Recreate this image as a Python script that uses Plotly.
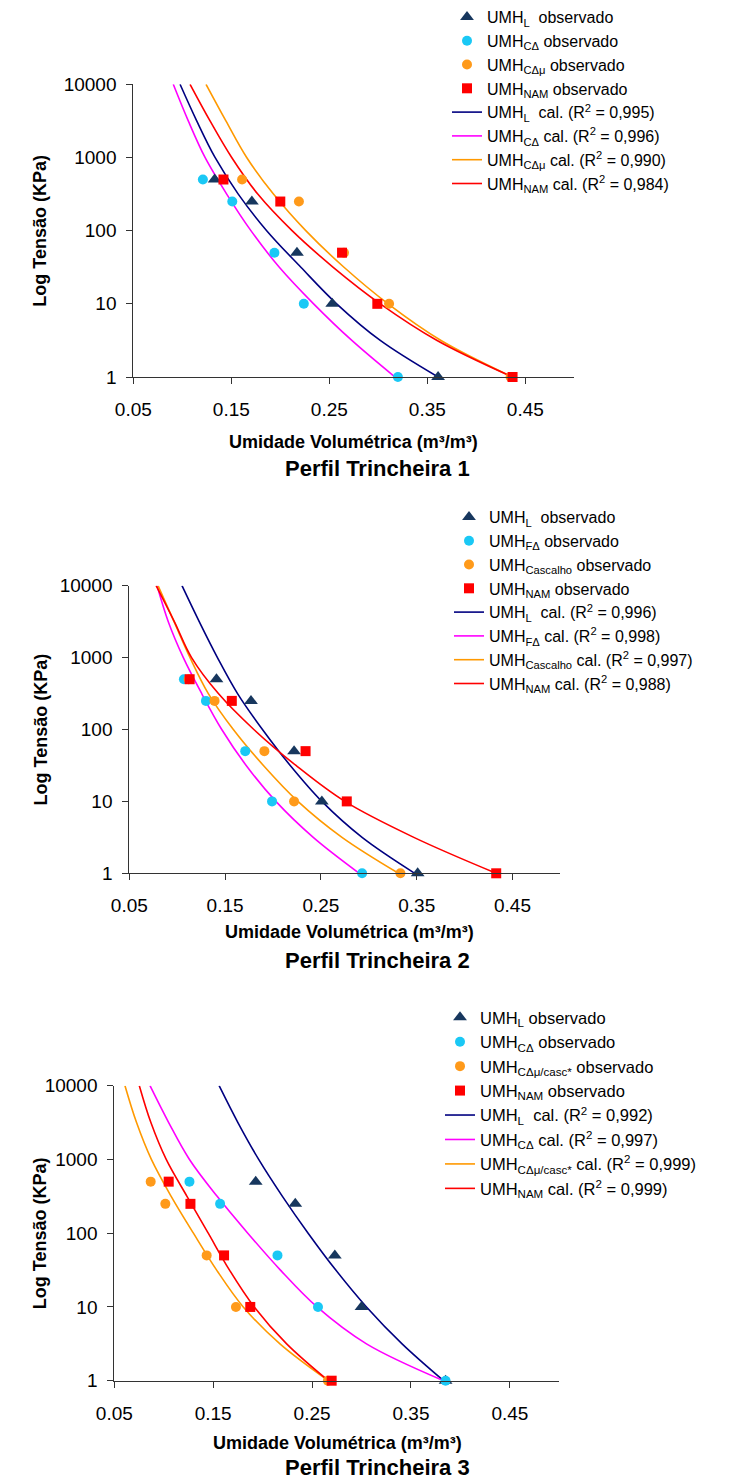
import plotly.graph_objects as go

W, H = 745, 1480

# ---------------- data ----------------
tension_obs = [500, 250, 50, 10, 1]
tension_cal = [1, 3.16, 10, 31.6, 100, 316, 1000, 3162, 10000]
x_ticks = [0.05, 0.15, 0.25, 0.35, 0.45]
x_ticktext = ["0.05", "0.15", "0.25", "0.35", "0.45"]
y_ticks = [1, 10, 100, 1000, 10000]
y_ticktext = ["1", "10", "100", "1000", "10000"]

# Perfil Trincheira 1
p1_L_obs = [0.133, 0.171, 0.217, 0.253, 0.361]
p1_C_obs = [0.121, 0.151, 0.194, 0.224, 0.320]
p1_Cmu_obs = [0.161, 0.219, 0.265, 0.311, 0.435]
p1_NAM_obs = [0.142, 0.200, 0.263, 0.299, 0.437]
p1_L_cal = [0.361, 0.302, 0.2575, 0.221, 0.1861, 0.1571, 0.1334, 0.1147, 0.0977]
p1_C_cal = [0.317, 0.273, 0.234, 0.199, 0.170, 0.1453, 0.1232, 0.1061, 0.0908]
p1_Cmu_cal = [0.437, 0.364, 0.310, 0.265, 0.226, 0.193, 0.1657, 0.1445, 0.1242]
p1_NAM_cal = [0.437, 0.360, 0.302, 0.254, 0.212, 0.177, 0.1504, 0.1283, 0.1079]
p1_names = [
    "UMH<sub>L</sub>&nbsp; observado",
    "UMH<sub>CΔ</sub> observado",
    "UMH<sub>CΔμ</sub> observado",
    "UMH<sub>NAM</sub> observado",
    "UMH<sub>L</sub>&nbsp; cal. (R<sup>2</sup> = 0,995)",
    "UMH<sub>CΔ</sub> cal. (R<sup>2</sup> = 0,996)",
    "UMH<sub>CΔμ</sub> cal. (R<sup>2</sup> = 0,990)",
    "UMH<sub>NAM</sub> cal. (R<sup>2</sup> = 0,984)",
]

# Perfil Trincheira 2
p2_L_obs = [0.141, 0.177, 0.222, 0.251, 0.351]
p2_F_obs = [0.107, 0.130, 0.171, 0.199, 0.293]
p2_Casc_obs = [0.112, 0.139, 0.191, 0.222, 0.333]
p2_NAM_obs = [0.113, 0.157, 0.234, 0.277, 0.433]
p2_L_cal = [0.348, 0.293, 0.251, 0.218, 0.189, 0.163, 0.142, 0.123, 0.105]
p2_F_cal = [0.290, 0.242, 0.203, 0.172, 0.1465, 0.1256, 0.1064, 0.0907, 0.079]
p2_Casc_cal = [0.331, 0.272, 0.226, 0.190, 0.1586, 0.1325, 0.1134, 0.0967, 0.080]
p2_NAM_cal = [0.433, 0.347, 0.275, 0.224, 0.180, 0.143, 0.115, 0.097, 0.078]
p2_names = [
    "UMH<sub>L</sub>&nbsp; observado",
    "UMH<sub>FΔ</sub> observado",
    "UMH<sub>Cascalho</sub> observado",
    "UMH<sub>NAM</sub> observado",
    "UMH<sub>L</sub>&nbsp; cal. (R<sup>2</sup> = 0,996)",
    "UMH<sub>FΔ</sub> cal. (R<sup>2</sup> = 0,998)",
    "UMH<sub>Cascalho</sub> cal. (R<sup>2</sup> = 0,997)",
    "UMH<sub>NAM</sub> cal. (R<sup>2</sup> = 0,988)",
]

# Perfil Trincheira 3
p3_L_obs = [0.193, 0.233, 0.273, 0.300, 0.385]
p3_C_obs = [0.126, 0.157, 0.215, 0.256, 0.385]
p3_Cmu_obs = [0.0868, 0.1016, 0.1434, 0.173, 0.266]
p3_NAM_obs = [0.105, 0.127, 0.161, 0.1875, 0.2698]
p3_L_cal = [0.383, 0.341, 0.305, 0.274, 0.246, 0.220, 0.196, 0.175, 0.156]
p3_C_cal = [0.383, 0.305, 0.255, 0.218, 0.185, 0.154, 0.126, 0.105, 0.0861]
p3_Cmu_cal = [0.2665, 0.2175, 0.1804, 0.1535, 0.130, 0.1075, 0.0875, 0.0725, 0.0608]
p3_NAM_cal = [0.2665, 0.2243, 0.1915, 0.1665, 0.145, 0.1235, 0.1025, 0.087, 0.0753]
p3_names = [
    "UMH<sub>L</sub> observado",
    "UMH<sub>CΔ</sub> observado",
    "UMH<sub>CΔμ/casc*</sub> observado",
    "UMH<sub>NAM</sub> observado",
    "UMH<sub>L</sub>&nbsp; cal. (R<sup>2</sup> = 0,992)",
    "UMH<sub>CΔ</sub> cal. (R<sup>2</sup> = 0,997)",
    "UMH<sub>CΔμ/casc*</sub> cal. (R<sup>2</sup> = 0,999)",
    "UMH<sub>NAM</sub> cal. (R<sup>2</sup> = 0,999)",
]

# ---------------- styles ----------------
FONT = "Liberation Sans, Arial, sans-serif"
obs_styles = [
    dict(symbol="triangle-up", color="#17375E", size=12),
    dict(symbol="circle", color="#1AC8F5", size=10),
    dict(symbol="circle", color="#FF9A1A", size=10),
    dict(symbol="square", color="#FF0000", size=10),
]
line_colors = ["#000080", "#FF00FF", "#FF9900", "#FF0000"]

panels = [
    dict(obs=[p1_L_obs, p1_C_obs, p1_Cmu_obs, p1_NAM_obs],
         cal=[p1_L_cal, p1_C_cal, p1_Cmu_cal, p1_NAM_cal], names=p1_names,
         px=(133.3, 574.3), py=(84.3, 377.0), title="Perfil Trincheira 1",
         legend_xy=(447, 0), legend_font=16,
         xt_y=442, pt_y=468, xt_x=353, pt_x=377),
    dict(obs=[p2_L_obs, p2_F_obs, p2_Casc_obs, p2_NAM_obs],
         cal=[p2_L_cal, p2_F_cal, p2_Casc_cal, p2_NAM_cal], names=p2_names,
         px=(129.3, 560.4), py=(585.7, 873.3), title="Perfil Trincheira 2",
         legend_xy=(449, 500), legend_font=16,
         xt_y=932, pt_y=960, xt_x=349, pt_x=377),
    dict(obs=[p3_L_obs, p3_C_obs, p3_Cmu_obs, p3_NAM_obs],
         cal=[p3_L_cal, p3_C_cal, p3_Cmu_cal, p3_NAM_cal], names=p3_names,
         px=(114.3, 559.3), py=(1085.7, 1380.7), title="Perfil Trincheira 3",
         legend_xy=(440, 1000), legend_font=16.5,
         xt_y=1443, pt_y=1467, xt_x=337, pt_x=377),
]

fig = go.Figure()
annotations = []
layout = {}

for i, p in enumerate(panels, start=1):
    sfx = "" if i == 1 else str(i)
    xa, ya = "x" + sfx, "y" + sfx
    leg = "legend" + sfx
    for k in range(4):
        fig.add_trace(go.Scatter(
            x=p["cal"][k], y=tension_cal, mode="lines", name=p["names"][4 + k],
            line=dict(color=line_colors[k], width=1.6, shape="spline", smoothing=1.0),
            xaxis=xa, yaxis=ya, legend=leg, legendrank=10 + k, cliponaxis=False,
        ))
    for k in range(4):
        st = obs_styles[k]
        fig.add_trace(go.Scatter(
            x=p["obs"][k], y=tension_obs, mode="markers", name=p["names"][k],
            marker=dict(symbol=st["symbol"], color=st["color"], size=st["size"],
                        line=dict(width=0)),
            xaxis=xa, yaxis=ya, legend=leg, legendrank=k, cliponaxis=False,
        ))
    x0, x1 = p["px"]
    y0, y1 = p["py"]
    layout["xaxis" + sfx] = dict(
        domain=[x0 / W, x1 / W], range=[0.05, 0.5], anchor=ya, automargin=False,
        tickvals=x_ticks, ticktext=x_ticktext, ticks="outside", ticklen=6,
        tickcolor="#333333", showline=True, linecolor="#333333", linewidth=1,
        showgrid=False, zeroline=False, ticklabelstandoff=9,
        tickfont=dict(family=FONT, size=19, color="#000000"),
    )
    layout["yaxis" + sfx] = dict(
        domain=[1 - y1 / H, 1 - y0 / H], type="log", range=[0, 4], anchor=xa,
        automargin=False,
        tickvals=y_ticks, ticktext=y_ticktext, ticks="outside", ticklen=6,
        tickcolor="#333333", showline=True, linecolor="#333333", linewidth=1,
        showgrid=False, zeroline=False, ticklabelstandoff=6,
        tickfont=dict(family=FONT, size=19, color="#000000"),
    )
    lx, ly = p["legend_xy"]
    layout[leg] = dict(
        x=lx / W, y=1 - ly / H, xanchor="left", yanchor="top",
        bgcolor="rgba(0,0,0,0)", borderwidth=0, traceorder="normal",
        font=dict(family=FONT, size=p["legend_font"], color="#000000"), tracegroupgap=0,
    )
    annotations.append(dict(
        text="<b>Umidade Volumétrica (m³/m³)</b>", x=p["xt_x"] / W, y=1 - p["xt_y"] / H,
        xref="paper", yref="paper", showarrow=False, xanchor="center", yanchor="middle",
        font=dict(family=FONT, size=18, color="#000000"),
    ))
    annotations.append(dict(
        text="<b>" + p["title"] + "</b>", x=p["pt_x"] / W, y=1 - p["pt_y"] / H,
        xref="paper", yref="paper", showarrow=False, xanchor="center", yanchor="middle",
        font=dict(family=FONT, size=22, color="#000000"),
    ))
    annotations.append(dict(
        text="<b>Log Tensão (KPa)</b>", x=40 / W, y=1 - ((y0 + y1) / 2) / H,
        xref="paper", yref="paper", showarrow=False, xanchor="center", yanchor="middle",
        textangle=-90, font=dict(family=FONT, size=18, color="#000000"),
    ))

fig.update_layout(
    width=W, height=H, margin=dict(l=0, r=0, t=0, b=0, autoexpand=False),
    paper_bgcolor="white", plot_bgcolor="white",
    font=dict(family=FONT, color="#000000"),
    annotations=annotations, **layout,
)

# remove the browser's default 8px body margin so the figure sits at the page origin
fig.write_html("out.html", config={"displayModeBar": False},
               post_script="document.body.style.margin='0';")
